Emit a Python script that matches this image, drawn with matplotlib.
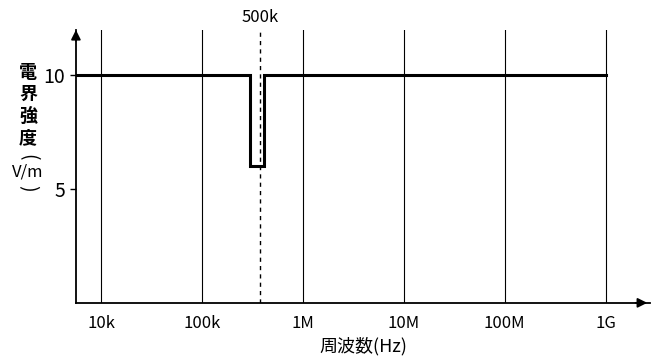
import matplotlib.pyplot as plt

plt.rcParams['font.family'] = ['Noto Sans CJK JP', 'DejaVu Sans']

# field strength trace (step shape), frequency in Hz
freq = [5.6e3, 3.0e5, 3.0e5, 4.1e5, 4.1e5, 1.0e9]
field = [10, 10, 6, 6, 10, 10]

marker_freq = 3.75e5
marker_label = '500k'

tick_freqs = [1e4, 1e5, 1e6, 1e7, 1e8, 1e9]
tick_labels = ['10k', '100k', '1M', '10M', '100M', '1G']
y_ticks = [5, 10]

fig = plt.figure(figsize=(6.66, 3.64), dpi=100)
ax = fig.add_axes([0.114, 0.168, 0.862, 0.75])

ax.set_xscale('log')
ax.set_xlim(10 ** 3.75, 10 ** 9.44)
ax.set_ylim(0, 12)

# vertical grid lines at decades
for f in tick_freqs:
    ax.axvline(f, color='black', linewidth=0.8)

ax.axvline(marker_freq, color='black', linewidth=1.0, linestyle=(0, (3, 3)))
ax.text(marker_freq, 1.015, marker_label, transform=ax.get_xaxis_transform(),
        ha='center', va='bottom', fontsize=12)

ax.plot(freq, field, color='black', linewidth=2.2, solid_joinstyle='miter')

ax.set_xticks(tick_freqs)
ax.set_xticklabels(tick_labels, fontsize=12)
ax.minorticks_off()
ax.tick_params(axis='x', length=0, pad=9)
ax.set_yticks(y_ticks)
ax.set_yticklabels([str(v) for v in y_ticks], fontsize=14)
ax.tick_params(axis='y', length=4, width=1, direction='out', pad=4)

for s in ['top', 'right']:
    ax.spines[s].set_visible(False)
for s in ['left', 'bottom']:
    ax.spines[s].set_linewidth(1.3)

# axis arrows
ax.annotate('', xy=(1.0, 0), xytext=(0.97, 0), xycoords='axes fraction',
            arrowprops=dict(arrowstyle='-|>', color='black', lw=1.3, mutation_scale=14))
ax.annotate('', xy=(0, 1.01), xytext=(0, 0.95), xycoords='axes fraction',
            arrowprops=dict(arrowstyle='-|>', color='black', lw=1.3, mutation_scale=14))

ax.set_xlabel('周波数(Hz)', fontsize=13, labelpad=3)

# vertical y-axis label
ylab = ['電', '界', '強', '度']
for i, ch in enumerate(ylab):
    fig.text(0.042, 1 - (73 + 21.5 * i) / 364, ch, ha='center', va='center',
             fontsize=13, fontweight='bold')
fig.text(0.042, 1 - 157 / 364, '(', ha='center', va='center', fontsize=14, rotation=-90)
fig.text(0.042, 1 - 172 / 364, 'V/m', ha='center', va='center', fontsize=12)
fig.text(0.042, 1 - 188 / 364, ')', ha='center', va='center', fontsize=14, rotation=-90)

fig.savefig('out.png', dpi=100)
